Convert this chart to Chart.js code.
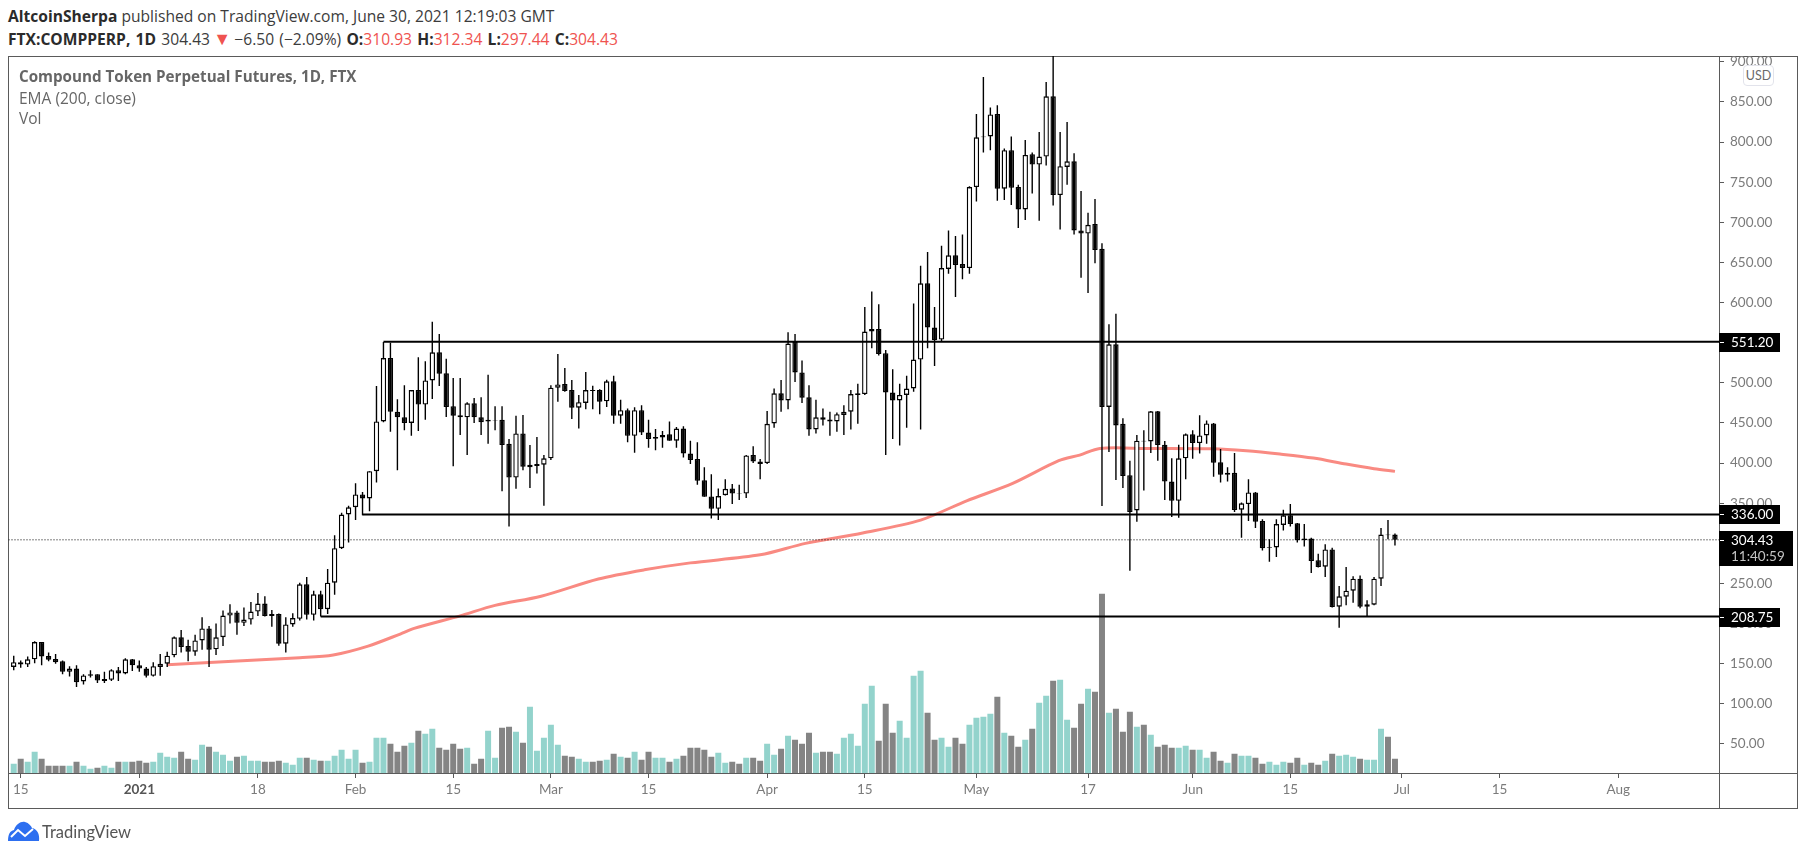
<!DOCTYPE html>
<html>
<head>
<meta charset="utf-8">
<title>COMPPERP 1D</title>
<script src="https://cdn.jsdelivr.net/npm/chart.js@4/dist/chart.umd.min.js"></script>
<style>
  html, body { margin: 0; padding: 0; background: #fff; width: 1805px; height: 855px; overflow: hidden; }
  body { position: relative; font-family: 'Open Sans', sans-serif; }
  #frame { position: absolute; left: 8px; top: 56px; width: 1788px; height: 751px; border: 1px solid #5a5a5a; }
  #axis-v { position: absolute; left: 1719px; top: 56px; width: 1px; height: 752px; background: #5a5a5a; }
  #axis-h { position: absolute; left: 8px; top: 773px; width: 1789px; height: 1px; background: #5a5a5a; }
  #chart { position: absolute; left: 0; top: 0; }
  .line1, .line2 { position: absolute; left: 8px; white-space: nowrap; color: #3c3c3c; font-size: 15.6px; }
  .line1 { top: 5px; }
  .line2 { top: 28px; word-spacing: 1.2px; }
  .line1 b, .line2 b { color: #2b2b2b; }
  .red { color: #ef5350; }
  .tri { font-size: 18px; line-height: 1; margin: 0 -2px; }
  .legend { position: absolute; left: 19px; color: #666; font-size: 15.5px; white-space: nowrap; }
  .usd { position: absolute; left: 1743px; top: 65px; width: 29px; height: 19px; line-height: 19px; text-align: center;
         background: #fff; border: 1px solid #e2e3eb; border-radius: 4px; font: 12.5px/19px Lato, sans-serif; color: #6a6a6a; }
  .brand { position: absolute; left: 42px; top: 820px; font: 16.5px/24px Lato, sans-serif; color: #555; }
  .logo { position: absolute; left: 8px; top: 821px; }
</style>
</head>
<body>
<div class="line1"><b>AltcoinSherpa</b> published on TradingView.com, June 30, 2021 12:19:03 GMT</div>
<div class="line2"><b>FTX:COMPPERP, 1D</b> 304.43 <span class="red tri">▼</span> −6.50 (−2.09%) <b>O:</b><span class="red">310.93</span> <b>H:</b><span class="red">312.34</span> <b>L:</b><span class="red">297.44</span> <b>C:</b><span class="red">304.43</span></div>
<div id="frame"></div>
<div id="axis-v"></div>
<div id="axis-h"></div>
<canvas id="chart" width="1805" height="855"></canvas>
<div class="legend" style="top:66px;font-weight:700;font-size:15.2px">Compound Token Perpetual Futures, 1D, FTX</div>
<div class="legend" style="top:87px">EMA (200, close)</div>
<div class="legend" style="top:107px">Vol</div>
<div class="usd">USD</div>
<svg class="logo" width="32" height="20" viewBox="0 0 32 20">
  <path d="M0 20 C0 13 2 10 6 9 C8 3 13 0 17 1 C21 2 23 5 24 7 C29 8 32 13 31 20 Z" fill="#2d6ff0"/>
  <path d="M3 16 L10 9 L17 15 L25 8" fill="none" stroke="#fff" stroke-width="2"/>
</svg>
<div class="brand">TradingView</div>

<script>
// ── Data ────────────────────────────────────────────────────
// one candle a day, index 0 = 14 Dec 2020, last = 30 Jun 2021
const opens = [
  146,152,149,155.5,177,159.6,156,153,140,144,
  128,135,137,128.5,130,142,138,155.5,148,144,
  135,146,150,160.5,183,172,165,179,194,168,
  183,210,214,201,205,215,225,212,212,175,
  199,206,249,211,236.5,218,251,294,336,345,
  361,356,390,452,531,464,457,450,491,473,
  503,538,512,471,459.5,457,474.5,457,452,453,
  454,424,382,437,395,396.5,398,406,494,498.5,
  491,469,475,491,491,477,502,459,466,434,
  466,438,430.5,432,436,428,443,412,405,378.5,
  358.5,343,360,368.5,362.7,362,410,402,400,449.5,
  487,478,551,513,482,442,457,454.5,452,460,
  464,485,486,564,567,537,488,478,485,493,
  529,624,569,554,642,659,648,643,744,806,
  807,835,742,790,744,716,785,772,782,857,
  734,769,776,690,686,698,667,470,548,449,
  385,341,428,427,464.5,423,377,353,406,436,
  425,434.5,449.5,401,385.5,388,342,349,363.5,328,
  294.6,295,323,335,325,304,306,279,271,292.5,
  221,233.5,241,256,221,223.5,256,311,310.93
];
const highs = [
  160,154,159,178,177,164,162,154,147,148,
  137,142,137,140,143,146,157,156,154,146,
  152,162,165,184,192,180,186,208,197,200,
  216.5,224,216,220,227,238,234,217,212.5,208,
  213,251,258,241,241,268,310,338,347,375,
  364,390,496,551,550,479.5,497,491,532,527,
  576,561,530,506,506,476,481,482,510,471,
  471,430,459,460,422.5,432.5,410,497,536,518.5,
  503.5,485,513.5,496.5,492,504,509,479,468,469.5,
  472,454,442.5,440,452,445,446,428,426,395,
  386,368.5,380,374,373,410,421,405,465,493,
  503.5,563,561,528,497,479,468,464,463,472,
  491,499,594.5,614,598,541,517,499,509,599,
  646,663,594.5,671,690,683,685,745,835,881,
  843,846,792,807,747,802.5,787,812.5,875,912,
  812.5,825,786,739,712,729,674,573,586,456,
  403,435,441,465,465,427.5,406,423,437,441,
  459.5,453,450,417.5,395,412.5,351,380,364,330,
  305,330,342,349,325.5,324,307,287,299,294.5,
  247,270.5,259,260,229,258,319,329,312.34
];
const lows = [
  142,145,146,150.5,148,153,150,137,134,121,
  124,133,126,126,128.5,128.5,137,141,140,133,
  134,135,146,158,164,153,160,167.5,146,161,
  172,200,186,197,199,209.5,209,196,172.5,164,
  196,204,205,204,209,212,236,293,301,329,
  335,340,376,451,439,391,441,434,440,454,
  480,496,457.5,396,435,410,450,435,424,441,
  365,321,368,391,369,387,347,404,476.5,489,
  455,443,467,467,461,470,449,449,426,413,
  435,419,416,419,428,419,407,399,373,358,
  331,329,359.5,349,354,356.5,400,380,399,444,
  464,467,501,475,434,437,447,434,439,435,
  442,449,485,543,534,410,430,422,444,489,
  442,543,521,552,636,607,629,636,726,787,
  790,727,728,721.5,693,703,736,702,771,721,
  691,747,685,631,612,649,346.5,414,379,369,
  266,327,366,412.5,403,354,333,332,380,405.5,
  412,424,383,376,377,339,307,328,319,291,
  277,283,316,321,301,296,263,270,258,220,
  195,223,226,219,208.6,223,247,305,297.44
];
const closes = [
  152,149,155.5,177,159,155,152,140,144,127,
  135.5,137,129,131,142,138,155.5,148,144,135,
  147,150,160,183,171,165,179,194,167.5,183,
  210,214,201,205,215,225,209.5,209.5,175,199,
  207,249,211,236.5,218,251,294,336,345,361,
  356,390,452,531,464,457,450,491,473,503,
  538,511.5,470,459,457,474.5,457,451,454,453.7,
  422.5,382,437,395.5,398,399,406,494,498,490,
  469,476,491,490,476.5,502,459,466,434,466,
  438,430,432.5,435,428,443,412,404,378,358,
  343,359,368,362,362,409.6,402,399,449,487,
  478,549,513,481.5,442,457,454,452,461,464,
  486,487,564,567,536,488,478,485,493,529,
  624,569,553,643,659,647,643,744,806,807,
  834.5,742,790,743,716,784,772,782,857,734,
  770,776,690,686,697,665.5,470,548,447,384,
  339,428,427,464.5,422.5,377,353,406,436,425,
  434.5,449.5,400.5,385.5,388,341.5,350,363.5,327,294,
  295.5,324,335,324,304,306,278,270.5,292.5,220.6,
  234,241,256,221,224,256,311,310,304.43
];
const volumes = [
  9.3,14.3,11.3,21.3,14.3,7.3,7.3,7.3,7.3,11.3,
  7.3,4.3,5.3,7.3,5.3,11.3,11.3,11.3,12.3,10.3,
  11.3,20.3,16.3,15.3,21.3,14.3,13.3,28.3,26.3,21.3,
  18.3,12.3,16.3,17.3,12.3,12.3,11.3,11.3,12.3,10.3,
  8.3,15.3,15.3,13.3,12.3,12.3,17.3,23.3,14.3,23.3,
  10.3,11.3,35.3,35.3,29.3,21.3,27.3,30.3,42.3,39.3,
  44.3,25.3,23.3,29.3,24.3,25.3,9.3,14.3,42.3,15.3,
  45.3,46.3,41.3,30.3,66.3,22.3,35.3,48.3,28.3,17.3,
  16.3,14.3,11.3,11.3,12.3,13.3,19.3,16.3,15.3,21.3,
  13.3,21.3,15.3,15.3,11.3,14.3,17.3,25.3,25.3,23.3,
  16.3,20.3,10.3,11.3,9.3,15.3,15.3,12.3,29.3,18.3,
  24.3,37.3,33.3,29.3,40.3,20.3,21.3,21.3,19.3,35.3,
  39.3,27.3,69.3,87.3,32.3,69.3,40.3,52.3,35.3,97.3,
  102.3,60.3,33.3,35.3,26.3,35.3,29.3,48.3,55.3,56.3,
  59.3,76.3,40.3,37.3,26.3,33.3,44.3,70.3,77.3,92.3,
  93.3,53.3,45.3,69.3,84.3,81.3,179.3,60.3,64.3,41.3,
  61.3,46.3,48.3,38.3,26.3,28.3,25.3,25.3,27.3,23.3,
  23.3,15.3,21.3,12.3,10.3,19.3,17.3,17.3,15.3,9.3,
  11.3,8.3,11.3,10.3,15.3,8.3,10.3,8.3,12.3,19.3,
  17.3,18.3,16.3,14.3,13.3,13.3,44.3,36.3,14.3
];

// EMA read at a handful of days along the curve
const emaDays   = [22,31.4,41,45.8,50.8,55.4,57.4,64,69,75.6,83.8,90.4,97,107,113.5,121.7,130,136.6,143.2,149.8,152.8,155.7,162.4,172,176.7,181.5,186.3,191,195,198];
const emaValues = [148.9,153,157.6,161,172,187,194,209.7,222.7,234.1,255.6,267,275.7,285.7,300,313,329,353,374.7,403,410,418.3,418.3,417.9,415.4,411.3,406.3,398.8,393,389.7];

const levels      = [551.2, 336, 208.75];
const levelStarts = [53, 50, 44];
const lastClose   = 304.43;
const countdown   = '11:40:59';

const priceTicks = [50,100,150,200,250,300,350,400,450,500,550,600,650,700,750,800,850,900];
const dateTicks  = [1,18,35,49,63,77,91,108,122,138,154,169,183,199,213,230];
const dateLabels = ['15','2021','18','Feb','15','Mar','15','Apr','15','May','17','Jun','15','Jul','15','Aug'];

// ── Helpers ─────────────────────────────────────────────────
const AXIS_FONT = 'Lato, sans-serif';
const X_MIN = -0.75, X_MAX = 244.45;
const isUp = i => closes[i] >= opens[i];
const days = opens.map((_, i) => i);
const isYearTick = ctx => !!ctx.tick && ctx.tick.value === 18;

// labels sitting on the price axis
const priceBoxes = {
  id: 'priceBoxes',
  afterDatasetsDraw(chart) {
    const { ctx, scales: { y }, chartArea } = chart;
    const left = chartArea.right;
    ctx.save();
    ctx.font = '13.5px ' + AXIS_FONT;
    ctx.textBaseline = 'middle';
    levels.forEach(v => {
      const py = Math.round(y.getPixelForValue(v));
      ctx.fillStyle = '#000';
      ctx.fillRect(left, py - 9, 61, 19);
      ctx.fillStyle = '#fff';
      ctx.fillRect(left + 1, py, 4, 1);
      ctx.fillText(v.toFixed(2), left + 12, py + 1);
    });
    const py = Math.round(y.getPixelForValue(lastClose));
    ctx.fillStyle = '#000';
    ctx.fillRect(left, py - 9, 74, 35);
    ctx.fillStyle = '#fff';
    ctx.fillRect(left + 1, py, 4, 1);
    ctx.fillText(lastClose.toFixed(2), left + 12, py + 1);
    ctx.fillStyle = '#c4c4c4';
    ctx.fillText(countdown, left + 12, py + 17);
    ctx.restore();
  }
};

new Chart(document.getElementById('chart'), {
  type: 'bar',
  data: {
    datasets: [
      { label: 'body', order: 2, xAxisID: 'x', yAxisID: 'y', grouped: false,
        data: days.map(i => ({ x: i, y: [opens[i], closes[i]] })),
        barThickness: 5.4, inflateAmount: 0, borderSkipped: false, borderWidth: 1.4, borderColor: '#000',
        backgroundColor: days.map(i => isUp(i) ? '#fff' : '#000') },
      { label: 'wick', order: 3, xAxisID: 'x', yAxisID: 'y', grouped: false,
        data: days.map(i => ({ x: i, y: [lows[i], highs[i]] })),
        barThickness: 1.4, inflateAmount: 0, borderSkipped: false, borderWidth: 0, backgroundColor: '#000' },
      { label: 'Vol', order: 6, xAxisID: 'x', yAxisID: 'vol', grouped: false,
        data: days.map(i => ({ x: i, y: volumes[i] })),
        barThickness: 6, inflateAmount: 0, borderWidth: 0,
        backgroundColor: days.map(i => isUp(i) ? '#93d3cc' : '#848484') },
      { type: 'line', label: 'EMA', order: 5, xAxisID: 'x', yAxisID: 'y',
        data: emaDays.map((d, i) => ({ x: d, y: emaValues[i] })),
        borderColor: '#f98a82', borderWidth: 3, pointRadius: 0, tension: 0.3 },
      ...levels.map((v, i) => ({
        type: 'line', order: 1, xAxisID: 'x', yAxisID: 'y',
        data: [{ x: levelStarts[i], y: v }, { x: X_MAX, y: v }],
        borderColor: '#000', borderWidth: 2, pointRadius: 0 })),
      { type: 'line', label: 'last', order: 4, xAxisID: 'x', yAxisID: 'y',
        data: [{ x: X_MIN, y: lastClose }, { x: X_MAX, y: lastClose }],
        borderColor: '#000', borderWidth: 1, borderDash: [1, 2], pointRadius: 0 }
    ]
  },
  options: {
    responsive: false, animation: false, devicePixelRatio: 1,
    layout: { padding: { left: 8.5, top: 56, right: 8, bottom: 47 } },
    plugins: { legend: { display: false }, tooltip: { enabled: false } },
    scales: {
      x: { type: 'linear', min: X_MIN, max: X_MAX, offset: false,
        afterBuildTicks: s => { s.ticks = dateTicks.map(v => ({ value: v })); },
        afterFit: s => { s.height = 35; },
        grid: { offset: false, drawOnChartArea: false, drawTicks: true, tickLength: 5, tickColor: '#5a5a5a' },
        border: { color: '#5a5a5a' },
        ticks: { autoSkip: false, maxRotation: 0, padding: 4,
          callback: v => dateLabels[dateTicks.indexOf(v)],
          color: ctx => isYearTick(ctx) ? '#555' : '#7b7b7b',
          font: ctx => ({ family: AXIS_FONT, size: 13.5, weight: isYearTick(ctx) ? 'bold' : 'normal' }) } },
      y: { position: 'right', min: 13.86, max: 907.3,
        afterBuildTicks: s => { s.ticks = priceTicks.map(v => ({ value: v })); },
        afterFit: s => { s.width = 78; },
        grid: { drawOnChartArea: false, tickLength: 5, tickColor: '#5a5a5a' },
        border: { color: '#5a5a5a' },
        ticks: { padding: 6, color: '#7b7b7b', callback: v => v.toFixed(2),
          font: { family: AXIS_FONT, size: 13.5 } } },
      vol: { display: false, min: 0, max: 717 }
    }
  },
  plugins: [priceBoxes]
});
</script>
</body>
</html>
